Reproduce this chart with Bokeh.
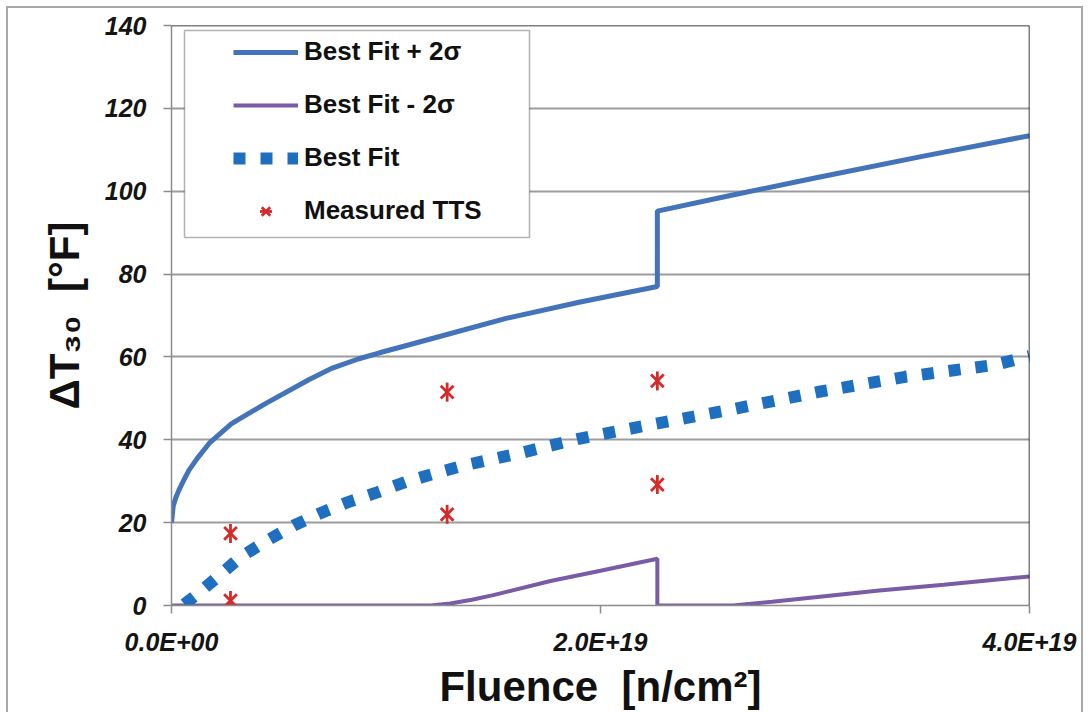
from math import pi
from bokeh.plotting import figure
from bokeh.models import Range1d, FixedTicker, Span, BoxAnnotation, Legend, LegendItem
from bokeh.embed import file_html
from bokeh.resources import INLINE

# ---- data: fluence in units of 1E+19 n/cm^2, delta T30 in deg F ----
fit_plus_fluence = [0, 0.008, 0.02, 0.034, 0.055, 0.081, 0.12, 0.18, 0.28, 0.44, 0.64, 0.75,
                    0.87, 0.97, 1.07, 1.22, 1.56, 1.9, 2.265, 2.265, 2.6, 3.0, 3.5, 4.0]
fit_plus_tts = [20, 24, 26, 27.8, 30, 32.6, 35.5, 39.4, 43.9, 48.8, 54.5, 57.3,
                59.5, 61.0, 62.4, 64.5, 69.3, 73.2, 77.0, 95.2, 98.9, 103.2, 108.4, 113.4]

fit_minus_fluence = [0, 1.21, 1.3, 1.4, 1.5, 1.767, 2.0, 2.265, 2.265, 2.62, 2.8, 3.0, 3.3, 3.6, 4.0]
fit_minus_tts = [0, 0, 0.5, 1.4, 2.5, 5.9, 8.4, 11.3, 0, 0, 0.9, 2.0, 3.6, 5.0, 7.0]

best_fit_fluence = [0.06, 0.112, 0.213, 0.322, 0.446, 0.57, 0.695, 0.82, 0.959, 1.09, 1.223,
                    1.363, 1.503, 1.643, 1.767, 1.904, 2.18, 2.6, 3.02, 3.42, 3.84, 4.0]
best_fit_tts = [0.3, 2.4, 6.8, 11.7, 15.7, 19.3, 22.3, 24.9, 27.3, 29.8, 31.8,
                33.8, 35.4, 37.0, 38.6, 40.3, 43.1, 47.2, 51.6, 55.2, 58.1, 60.2]

measured_fluence = [0.275, 0.275, 1.285, 1.285, 2.265, 2.265]
measured_tts = [17.4, 1.2, 51.5, 22.0, 54.2, 29.2]

x_ticks = [0, 2, 4]
x_tick_labels = ["0.0E+00", "2.0E+19", "4.0E+19"]
y_ticks = [0, 20, 40, 60, 80, 100, 120, 140]
y_tick_labels = ["0", "20", "40", "60", "80", "100", "120", "140"]

x_title = "Fluence \u00a0[n/cm²]"
y_title = "ΔT₃₀ \u00a0[°F]"

# ---- layout constants (pixels) ----
W, H = 1089, 712
FL, FR, FT, FB = 171, 1029, 25, 605
XMAX, YMAX = 4.0, 140.0


def dx(px):
    return (px - FL) / (FR - FL) * XMAX


def dy(py):
    return (FB - py) / (FB - FT) * YMAX


FONT = "Liberation Sans"
GREY = "#a8a8a8"

p = figure(width=W, height=H, output_backend="svg", toolbar_location=None,
           x_range=Range1d(0, XMAX), y_range=Range1d(0, YMAX),
           min_border_left=FL, min_border_right=W - FR,
           min_border_top=FT, min_border_bottom=H - FB)
p.background_fill_color = "white"
p.border_fill_alpha = 0
p.outline_line_color = None
# outer picture frame (top, left, right edges) drawn as page background lines
p.styles = {
    "background-color": "white",
    "background-image": ("linear-gradient(%s,%s), linear-gradient(%s,%s), linear-gradient(%s,%s)"
                         % (GREY, GREY, GREY, GREY, GREY, GREY)),
    "background-size": "1077px 2px, 2px 712px, 2px 712px",
    "background-position": "6px 6px, 6px 6px, 1081px 6px",
    "background-repeat": "no-repeat",
}

# grid
p.xgrid.grid_line_color = None
p.ygrid.grid_line_color = "#9c9c9c"
p.ygrid.grid_line_width = 2
p.ygrid.ticker = FixedTicker(ticks=y_ticks)

# axes
for ax in (p.xaxis[0], p.yaxis[0]):
    ax.axis_line_color = "#8c8c8c"
    ax.axis_line_width = 1.5
    ax.major_tick_line_color = "#8c8c8c"
    ax.major_tick_line_width = 1.5
    ax.major_tick_in = 0
    ax.major_tick_out = 8
    ax.minor_tick_line_color = None
    ax.major_label_text_font = FONT
    ax.major_label_text_font_size = "25px"
    ax.major_label_text_font_style = "bold italic"
    ax.major_label_text_color = "#141414"
    ax.axis_label_text_font = FONT
    ax.axis_label_text_font_size = "42px"
    ax.axis_label_text_font_style = "bold"
    ax.axis_label_text_color = "#111111"

p.xaxis.ticker = FixedTicker(ticks=x_ticks)
p.xaxis.major_label_overrides = dict(zip(x_ticks, x_tick_labels))
p.xaxis.major_label_standoff = 14
p.xaxis.axis_label = x_title
p.xaxis.axis_label_standoff = 4
p.yaxis.ticker = FixedTicker(ticks=y_ticks)
p.yaxis.major_label_overrides = dict(zip(y_ticks, y_tick_labels))
p.yaxis.major_label_standoff = 17
p.yaxis.axis_label = y_title
p.yaxis.axis_label_standoff = 14

# frame top/right black border
p.add_layout(Span(location=YMAX, dimension="width", line_color="black", line_width=1.5))
p.add_layout(Span(location=XMAX, dimension="height", line_color="black", line_width=1.5))

# series
r_up = p.line(fit_plus_fluence, fit_plus_tts, line_color="#4373b8", line_width=5)
r_lo = p.line(fit_minus_fluence, fit_minus_tts, line_color="#7a5ba6", line_width=4)
r_bf = p.line(best_fit_fluence, best_fit_tts, line_color="#1f6fc0", line_width=12,
              line_dash="12 15", line_cap="butt")
r_mx = p.scatter(measured_fluence, measured_tts, marker="x", size=18,
                 line_color="#d42a2a", line_width=2.8)
r_md = p.scatter(measured_fluence, measured_tts, marker="dash", size=19, angle=pi / 2,
                 line_color="#d42a2a", line_width=2.8)

# legend box
p.add_layout(BoxAnnotation(left=dx(184), right=dx(529), top=dy(30), bottom=dy(237),
                           fill_color="white", fill_alpha=1, line_color="black", line_width=1.5))

legend = Legend(items=[LegendItem(label="Best Fit + 2σ", renderers=[r_up]),
                       LegendItem(label="Best Fit - 2σ", renderers=[r_lo]),
                       LegendItem(label="Best Fit", renderers=[r_bf]),
                       LegendItem(label="Measured TTS", renderers=[r_mx, r_md])],
                location=(62, 379), glyph_width=65, glyph_height=30, label_height=30,
                spacing=22, padding=0, margin=0, label_standoff=6,
                border_line_alpha=0, background_fill_alpha=0,
                label_text_font=FONT, label_text_font_size="26px",
                label_text_font_style="bold", label_text_color="#111111")
p.add_layout(legend)

open("out.html", "w").write(file_html(p, INLINE))
